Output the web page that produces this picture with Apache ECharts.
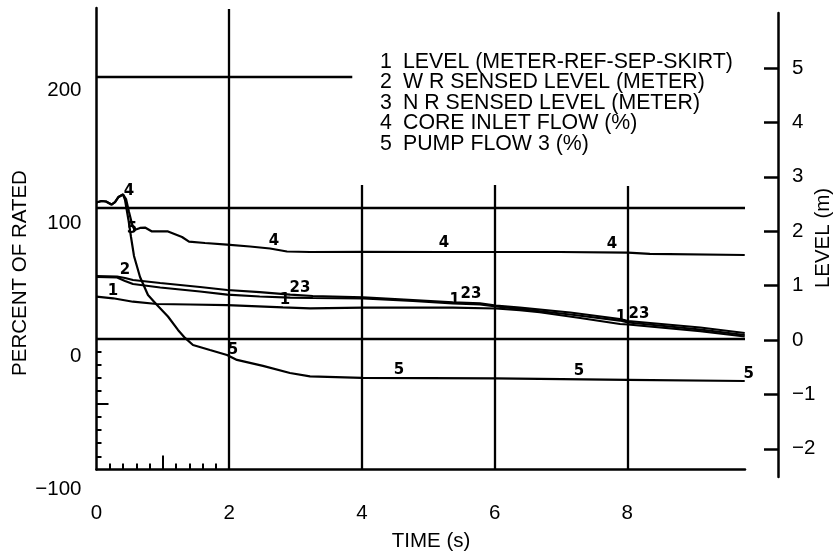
<!DOCTYPE html>
<html>
<head>
<meta charset="utf-8">
<script src="https://cdn.jsdelivr.net/npm/echarts@6/dist/echarts.min.js"></script>
<style>
  html, body { margin: 0; padding: 0; background: #fff; }
  #chart { width: 835px; height: 558px; }
</style>
</head>
<body>
<div id="chart"></div>
<script>
// ---- data -------------------------------------------------------------
const timeTicks = [0, 2, 4, 6, 8];                 // TIME (s)
const percentTicks = [-100, 0, 100, 200];          // PERCENT OF RATED
const levelTicks = [-2, -1, 0, 1, 2, 3, 4, 5];     // LEVEL (m)

const legendItems = [
  'LEVEL (METER-REF-SEP-SKIRT)',
  'W R SENSED LEVEL (METER)',
  'N R SENSED LEVEL (METER)',
  'CORE INLET FLOW (%)',
  'PUMP FLOW 3 (%)'
];

// 1: level, meter-ref-sep-skirt (m)
const level1 = [[0, 0.796], [0.25, 0.767], [0.55, 0.704], [0.91, 0.662], [1.41, 0.653], [1.97, 0.643],
  [2.81, 0.601], [3.22, 0.583], [4.02, 0.597], [5.37, 0.597], [6.02, 0.579], [6.38, 0.551],
  [6.68, 0.51], [7.29, 0.404], [7.89, 0.294], [8.01, 0.285], [9.1, 0.165], [9.77, 0.064]];
// 2: W R sensed level (m)
const level2 = [[0, 1.176], [0.31, 1.167], [0.43, 1.14], [0.55, 1.103], [0.96, 1.048], [1.56, 0.974],
  [1.97, 0.919], [2.46, 0.882], [2.92, 0.836], [3.26, 0.809], [4.02, 0.785], [4.77, 0.735],
  [5.37, 0.693], [5.78, 0.675], [6.02, 0.634], [6.38, 0.597], [7.14, 0.506], [7.89, 0.386],
  [8.01, 0.349], [9.1, 0.23], [9.77, 0.129]];
// 3: N R sensed level (m)
const level3 = [[0, 1.158], [0.31, 1.149], [0.43, 1.085], [0.55, 1.029], [0.96, 0.965], [1.56, 0.892],
  [1.97, 0.836], [2.46, 0.8], [2.92, 0.781], [3.26, 0.772], [4.02, 0.763], [4.77, 0.717],
  [5.37, 0.675], [5.78, 0.653], [6.02, 0.616], [6.38, 0.57], [7.14, 0.469], [7.89, 0.358],
  [8.01, 0.322], [9.1, 0.193], [9.77, 0.092]];
// 4: core inlet flow (%)
const coreFlow = [[0, 104.1], [0.075, 105.2], [0.143, 104.8], [0.226, 102.5], [0.279, 104.4], [0.332, 108.3],
  [0.399, 110.2], [0.445, 106.7], [0.49, 96.8], [0.535, 87.6], [0.573, 83.0], [0.656, 84.6],
  [0.731, 84.9], [0.836, 81.9], [1.078, 81.9], [1.289, 77.7], [1.394, 74.2], [1.635, 73.1],
  [1.967, 71.9], [2.313, 70.4], [2.615, 68.9], [2.871, 66.6], [3.218, 66.2], [4.0, 66.4],
  [5.177, 66.2], [6.006, 66.2], [6.986, 66.2], [8.01, 65.8], [8.34, 64.7], [9.77, 63.9]];
// 5: pump flow 3 (%)
const pumpFlow = [[0, 104.1], [0.075, 105.2], [0.143, 104.8], [0.226, 102.5], [0.279, 104.4], [0.332, 108.3],
  [0.399, 110.2], [0.43, 106.0], [0.482, 90.7], [0.52, 77.7], [0.565, 63.2], [0.656, 47.1],
  [0.776, 33.3], [0.912, 25.7], [1.077, 16.9], [1.228, 6.6], [1.334, 0.5], [1.454, -4.9],
  [1.71, -8.7], [1.967, -12.5], [2.117, -16.3], [2.509, -20.9], [2.916, -26.3], [3.218, -28.9],
  [4.0, -30.0], [6.006, -30.4], [8.01, -31.6], [9.77, -32.4]];

// ---- layout -----------------------------------------------------------
const X_MAX = 9.774;
const PCT_MIN = -100, PCT_MAX = 252.75;
const LVL_MIN = -2.518, LVL_MAX = 6.011;
const FAMILY = '"Liberation Sans", Arial, Helvetica, sans-serif';
const FS = 20.5;
const LEGEND_FS = 21.3;
const INK = '#000';
const minus = v => String(v).replace('-', '\u2212');

// plotting frame lines [x1, y1, x2, y2] in time / percent units
const frame = [
  [0, 200, 3.855, 200],
  [0, 100, X_MAX, 100],
  [0, 0, X_MAX, 0],
  [2, -100, 2, 252],
  [4, -100, 4, 117.4],
  [6, -100, 6, 117.4],
  [8, -100, 8, 116.7]
];

// curve number tags along each trace
function tags(list) {
  return {
    symbol: 'circle',
    symbolSize: 1,
    silent: true,
    itemStyle: { color: 'rgba(0,0,0,0)' },
    label: {
      show: true, position: 'inside', color: INK,
      fontFamily: '"DejaVu Sans", sans-serif', fontSize: 15, fontWeight: 'bold',
      formatter: p => p.name
    },
    data: list.map(([name, t, v, dx]) => ({ name, coord: [t, v], label: { offset: [dx || 0, 0] } }))
  };
}

const curveStyle = { color: INK, width: 2.2 };

const option = {
  animation: false,
  backgroundColor: '#fff',
  grid: [
    { left: 96.5, right: 90, top: 8, bottom: 88.6, outerBoundsMode: 'none', containLabel: false },
    { left: 96.5, right: 90, top: 90, bottom: 69, outerBoundsMode: 'none', containLabel: false },
    { left: 96.5, right: 90, top: 13, bottom: 81, outerBoundsMode: 'none', containLabel: false }
  ],
  xAxis: [
    {
      gridIndex: 0, type: 'value', min: 0, max: X_MAX, position: 'bottom',
      axisLine: { show: true, onZero: false, lineStyle: { color: INK, width: 2.5 } },
      axisTick: { show: true, inside: true, length: 6, lineStyle: { color: INK, width: 2 },
        customValues: [0.2, 0.4, 0.6, 0.8, 1.2, 1.4, 1.6, 1.8] },
      axisLabel: { show: true, customValues: timeTicks, margin: 33, color: INK,
        fontFamily: FAMILY, fontSize: FS },
      splitLine: { show: false }
    },
    {
      gridIndex: 0, type: 'value', min: 0, max: X_MAX, position: 'bottom',
      axisLine: { show: false, onZero: false },
      axisTick: { show: true, inside: true, length: 14, lineStyle: { color: INK, width: 2 }, customValues: [1] },
      axisLabel: { show: false },
      splitLine: { show: false }
    },
    { gridIndex: 1, type: 'value', min: 0, max: X_MAX, show: false, axisLine: { onZero: false } },
    { gridIndex: 2, type: 'value', min: 0, max: X_MAX, show: false, axisLine: { onZero: false } }
  ],
  yAxis: [
    {
      gridIndex: 0, type: 'value', min: PCT_MIN, max: PCT_MAX, position: 'left',
      axisLine: { show: true, onZero: false, lineStyle: { color: INK, width: 2.5 } },
      axisTick: { show: true, inside: true, length: 5, lineStyle: { color: INK, width: 2 },
        customValues: [-90, -80, -70, -60, -40, -30, -20, -10] },
      axisLabel: { show: false },
      splitLine: { show: false }
    },
    {
      gridIndex: 0, type: 'value', min: PCT_MIN, max: PCT_MAX, position: 'left',
      axisLine: { show: false, onZero: false },
      axisTick: { show: true, inside: true, length: 12, lineStyle: { color: INK, width: 2 }, customValues: [-50] },
      axisLabel: { show: false },
      splitLine: { show: false }
    },
    {
      gridIndex: 1, type: 'value', min: -100, max: 200, position: 'left',
      axisLine: { show: false, onZero: false },
      axisTick: { show: false },
      axisLabel: { show: true, customValues: percentTicks, margin: 15, color: INK,
        fontFamily: FAMILY, fontSize: FS, formatter: minus },
      splitLine: { show: false }
    },
    {
      gridIndex: 2, type: 'value', min: LVL_MIN, max: LVL_MAX, position: 'right', offset: 33,
      axisLine: { show: true, onZero: false, lineStyle: { color: INK, width: 2.5 } },
      axisTick: { show: true, inside: true, length: 14, lineStyle: { color: INK, width: 2.5 },
        customValues: levelTicks },
      axisLabel: { show: true, customValues: levelTicks, margin: 14, color: INK,
        fontFamily: FAMILY, fontSize: FS, formatter: minus },
      splitLine: { show: false }
    }
  ],
  series: [
    {
      type: 'lines', coordinateSystem: 'cartesian2d', xAxisIndex: 0, yAxisIndex: 0,
      silent: true, z: 1,
      lineStyle: { color: INK, width: 2.3, opacity: 1 },
      data: frame.map(([x1, y1, x2, y2]) => ({ coords: [[x1, y1], [x2, y2]] }))
    },
    {
      name: legendItems[3], type: 'line', xAxisIndex: 0, yAxisIndex: 0, data: coreFlow,
      showSymbol: false, symbol: 'none', lineStyle: curveStyle, silent: true,
      markPoint: tags([['4', 0.49, 112.5], ['4', 2.675, 74.6], ['4', 5.237, 73.1], ['4', 7.77, 72.3]])
    },
    {
      name: legendItems[4], type: 'line', xAxisIndex: 0, yAxisIndex: 0, data: pumpFlow,
      showSymbol: false, symbol: 'none', lineStyle: curveStyle, silent: true,
      markPoint: tags([['5', 0.535, 83.8], ['5', 2.057, -8.7], ['5', 4.559, -24.0], ['5', 7.272, -24.8],
        ['5', 9.77, -27.5, 4]])
    },
    {
      name: legendItems[0], type: 'line', xAxisIndex: 3, yAxisIndex: 3, data: level1,
      showSymbol: false, symbol: 'none', lineStyle: curveStyle, silent: true,
      markPoint: tags([['1', 0.25, 0.90], ['1', 2.84, 0.735], ['1', 5.4, 0.735], ['1', 7.905, 0.423]])
    },
    {
      name: legendItems[1], type: 'line', xAxisIndex: 3, yAxisIndex: 3, data: level2,
      showSymbol: false, symbol: 'none', lineStyle: curveStyle, silent: true,
      markPoint: tags([['2', 0.43, 1.287], ['23', 3.067, 0.956], ['23', 5.644, 0.846], ['23', 8.176, 0.478]])
    },
    {
      name: legendItems[2], type: 'line', xAxisIndex: 3, yAxisIndex: 3, data: level3,
      showSymbol: false, symbol: 'none', lineStyle: curveStyle, silent: true
    }
  ],
  graphic: [
    {
      type: 'text', x: 20, y: 273, rotation: Math.PI / 2,
      style: { text: 'PERCENT OF RATED', font: FS + 'px ' + FAMILY, fill: INK,
        align: 'center', verticalAlign: 'middle', textAlign: 'center', textVerticalAlign: 'middle' }
    },
    {
      type: 'text', x: 823, y: 238, rotation: Math.PI / 2,
      style: { text: 'LEVEL (m)', font: FS + 'px ' + FAMILY, fill: INK,
        align: 'center', verticalAlign: 'middle', textAlign: 'center', textVerticalAlign: 'middle' }
    },
    {
      type: 'text', x: 431, y: 541,
      style: { text: 'TIME (s)', font: FS + 'px ' + FAMILY, fill: INK,
        align: 'center', verticalAlign: 'middle', textAlign: 'center', textVerticalAlign: 'middle' }
    },
    ...legendItems.map((s, i) => ({
      type: 'text', x: 380, y: 62 + i * 20.5,
      style: { text: String(i + 1), font: LEGEND_FS + 'px ' + FAMILY, fill: INK,
        align: 'left', verticalAlign: 'middle', textAlign: 'left', textVerticalAlign: 'middle' }
    })),
    ...legendItems.map((s, i) => ({
      type: 'text', x: 403, y: 62 + i * 20.5,
      style: { text: s, font: LEGEND_FS + 'px ' + FAMILY, fill: INK,
        align: 'left', verticalAlign: 'middle', textAlign: 'left', textVerticalAlign: 'middle' }
    }))
  ]
};

const chart = echarts.init(document.getElementById('chart'));
chart.setOption(option);
</script>
</body>
</html>
